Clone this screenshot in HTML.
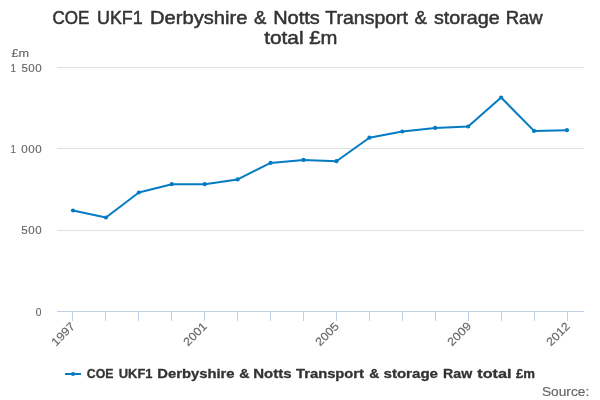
<!DOCTYPE html>
<html><head><meta charset="utf-8"><title>Chart</title>
<style>
html,body{margin:0;padding:0;background:#fff;}
body{width:600px;height:400px;overflow:hidden;font-family:"Liberation Sans", sans-serif;}
svg{display:block;font-family:"Liberation Sans", sans-serif;will-change:transform;}
text{stroke-linejoin:round;}
</style></head><body>
<svg width="600" height="400" viewBox="0 0 600 400">
<rect x="0" y="0" width="600" height="400" fill="#ffffff"/>
<path d="M57 67.5H584" stroke="#e0e0e0" stroke-width="1" fill="none"/>
<path d="M57 148.5H584" stroke="#e0e0e0" stroke-width="1" fill="none"/>
<path d="M57 230.5H584" stroke="#e0e0e0" stroke-width="1" fill="none"/>
<path d="M57 311.5H584" stroke="#c0d0e6" stroke-width="1" fill="none"/>
<path d="M72.5 311V321M105.5 311V321M138.5 311V321M171.5 311V321M204.5 311V321M237.5 311V321M270.5 311V321M303.5 311V321M336.5 311V321M369.5 311V321M402.5 311V321M435.5 311V321M468.5 311V321M501.5 311V321M534.5 311V321M567.5 311V321" stroke="#c0d0e6" stroke-width="1" fill="none"/>
<path d="M73.0 210.5 L105.93 217.5 L138.86 192.5 L171.79 184.2 L204.72 184.2 L237.65 179.4 L270.58 162.9 L303.51 159.9 L336.44 161.2 L369.37 137.7 L402.3 131.5 L435.23 127.9 L468.16 126.5 L501.09 97.5 L534.02 130.9 L566.95 130.2" stroke="#047bc2" stroke-width="2" fill="none" stroke-linejoin="round" stroke-linecap="round"/>
<circle cx="73.0" cy="210.5" r="2.1" fill="#047bc2"/>
<circle cx="105.93" cy="217.5" r="2.1" fill="#047bc2"/>
<circle cx="138.86" cy="192.5" r="2.1" fill="#047bc2"/>
<circle cx="171.79" cy="184.2" r="2.1" fill="#047bc2"/>
<circle cx="204.72" cy="184.2" r="2.1" fill="#047bc2"/>
<circle cx="237.65" cy="179.4" r="2.1" fill="#047bc2"/>
<circle cx="270.58" cy="162.9" r="2.1" fill="#047bc2"/>
<circle cx="303.51" cy="159.9" r="2.1" fill="#047bc2"/>
<circle cx="336.44" cy="161.2" r="2.1" fill="#047bc2"/>
<circle cx="369.37" cy="137.7" r="2.1" fill="#047bc2"/>
<circle cx="402.3" cy="131.5" r="2.1" fill="#047bc2"/>
<circle cx="435.23" cy="127.9" r="2.1" fill="#047bc2"/>
<circle cx="468.16" cy="126.5" r="2.1" fill="#047bc2"/>
<circle cx="501.09" cy="97.5" r="2.1" fill="#047bc2"/>
<circle cx="534.02" cy="130.9" r="2.1" fill="#047bc2"/>
<circle cx="566.95" cy="130.2" r="2.1" fill="#047bc2"/>
<text x="52.43" y="24.3" font-size="18.5" font-weight="normal" fill="#333333" stroke="#333333" stroke-width="0.5" textLength="36.94" lengthAdjust="spacingAndGlyphs">COE</text>
<text x="96.96" y="24.3" font-size="18.5" font-weight="normal" fill="#333333" stroke="#333333" stroke-width="0.5" textLength="45.82" lengthAdjust="spacingAndGlyphs">UKF1</text>
<text x="150.02" y="24.3" font-size="18.5" font-weight="normal" fill="#333333" stroke="#333333" stroke-width="0.5" textLength="97.4" lengthAdjust="spacingAndGlyphs">Derbyshire</text>
<text x="253.97" y="24.3" font-size="18.5" font-weight="normal" fill="#333333" stroke="#333333" stroke-width="0.5" textLength="12.38" lengthAdjust="spacingAndGlyphs">&amp;</text>
<text x="273.2" y="24.3" font-size="18.5" font-weight="normal" fill="#333333" stroke="#333333" stroke-width="0.5" textLength="46.57" lengthAdjust="spacingAndGlyphs">Notts</text>
<text x="325.25" y="24.3" font-size="18.5" font-weight="normal" fill="#333333" stroke="#333333" stroke-width="0.5" textLength="82.75" lengthAdjust="spacingAndGlyphs">Transport</text>
<text x="414.47" y="24.3" font-size="18.5" font-weight="normal" fill="#333333" stroke="#333333" stroke-width="0.5" textLength="12.38" lengthAdjust="spacingAndGlyphs">&amp;</text>
<text x="434.0" y="24.3" font-size="18.5" font-weight="normal" fill="#333333" stroke="#333333" stroke-width="0.5" textLength="65.76" lengthAdjust="spacingAndGlyphs">storage</text>
<text x="505.71" y="24.3" font-size="18.5" font-weight="normal" fill="#333333" stroke="#333333" stroke-width="0.5" textLength="37.03" lengthAdjust="spacingAndGlyphs">Raw</text>
<text x="264.15" y="44.3" font-size="18.5" font-weight="normal" fill="#333333" stroke="#333333" stroke-width="0.5" textLength="39.38" lengthAdjust="spacingAndGlyphs">total</text>
<text x="309.24" y="44.3" font-size="18.5" font-weight="normal" fill="#333333" stroke="#333333" stroke-width="0.5" textLength="28.17" lengthAdjust="spacingAndGlyphs">£m</text>
<text x="11.58" y="56.7" font-size="11.5" font-weight="normal" fill="#666666" stroke="#666666" stroke-width="0.15" textLength="17.57" lengthAdjust="spacingAndGlyphs">£m</text>
<text x="10.6" y="71.8" font-size="11.5" font-weight="normal" fill="#666666" stroke="#666666" stroke-width="0.15" textLength="5.47" lengthAdjust="spacingAndGlyphs">1</text>
<text x="21.5" y="71.8" font-size="11.5" font-weight="normal" fill="#666666" stroke="#666666" stroke-width="0.15" textLength="20.15" lengthAdjust="spacing">500</text>
<text x="10.6" y="153" font-size="11.5" font-weight="normal" fill="#666666" stroke="#666666" stroke-width="0.15" textLength="5.47" lengthAdjust="spacingAndGlyphs">1</text>
<text x="21.35" y="153" font-size="11.5" font-weight="normal" fill="#666666" stroke="#666666" stroke-width="0.15" textLength="20.3" lengthAdjust="spacing">000</text>
<text x="21.35" y="233.8" font-size="11.5" font-weight="normal" fill="#666666" stroke="#666666" stroke-width="0.15" textLength="20.3" lengthAdjust="spacing">500</text>
<text x="35.73" y="315.7" font-size="11.5" font-weight="normal" fill="#666666" stroke="#666666" stroke-width="0.15" textLength="5.7" lengthAdjust="spacingAndGlyphs">0</text>
<text x="86.75" y="378" font-size="12.5" font-weight="bold" fill="#333333" stroke="#333333" stroke-width="0.3" textLength="26.76" lengthAdjust="spacingAndGlyphs">COE</text>
<text x="118.74" y="378" font-size="12.5" font-weight="bold" fill="#333333" stroke="#333333" stroke-width="0.3" textLength="33.77" lengthAdjust="spacingAndGlyphs">UKF1</text>
<text x="157.24" y="378" font-size="12.5" font-weight="bold" fill="#333333" stroke="#333333" stroke-width="0.3" textLength="77.36" lengthAdjust="spacingAndGlyphs">Derbyshire</text>
<text x="239.31" y="378" font-size="12.5" font-weight="bold" fill="#333333" stroke="#333333" stroke-width="0.3" textLength="10.32" lengthAdjust="spacingAndGlyphs">&amp;</text>
<text x="253.22" y="378" font-size="12.5" font-weight="bold" fill="#333333" stroke="#333333" stroke-width="0.3" textLength="38.29" lengthAdjust="spacingAndGlyphs">Notts</text>
<text x="296.0" y="378" font-size="12.5" font-weight="bold" fill="#333333" stroke="#333333" stroke-width="0.3" textLength="68.0" lengthAdjust="spacingAndGlyphs">Transport</text>
<text x="369.32" y="378" font-size="12.5" font-weight="bold" fill="#333333" stroke="#333333" stroke-width="0.3" textLength="10.1" lengthAdjust="spacingAndGlyphs">&amp;</text>
<text x="383.49" y="378" font-size="12.5" font-weight="bold" fill="#333333" stroke="#333333" stroke-width="0.3" textLength="54.51" lengthAdjust="spacingAndGlyphs">storage</text>
<text x="443.08" y="378" font-size="12.5" font-weight="bold" fill="#333333" stroke="#333333" stroke-width="0.3" textLength="29.07" lengthAdjust="spacingAndGlyphs">Raw</text>
<text x="477.25" y="378" font-size="12.5" font-weight="bold" fill="#333333" stroke="#333333" stroke-width="0.3" textLength="34.28" lengthAdjust="spacingAndGlyphs">total</text>
<text x="516.0" y="378" font-size="12.5" font-weight="bold" fill="#333333" stroke="#333333" stroke-width="0.3" textLength="19.03" lengthAdjust="spacingAndGlyphs">£m</text>
<text x="541.92" y="395.5" font-size="12.5" font-weight="normal" fill="#666666" stroke="#666666" stroke-width="0.15" textLength="47.38" lengthAdjust="spacingAndGlyphs">Source:</text>
<text x="47.64" y="326.65" font-size="11.5" fill="#666666" stroke="#666666" stroke-width="0.15" textLength="27.94" lengthAdjust="spacingAndGlyphs" transform="rotate(-45 76.05 326.65)">1997</text>
<text x="179.68" y="326.65" font-size="11.5" fill="#666666" stroke="#666666" stroke-width="0.15" textLength="27.89" lengthAdjust="spacingAndGlyphs" transform="rotate(-45 208.05 326.65)">2001</text>
<text x="311.68" y="326.65" font-size="11.5" fill="#666666" stroke="#666666" stroke-width="0.15" textLength="27.89" lengthAdjust="spacingAndGlyphs" transform="rotate(-45 340.05 326.65)">2005</text>
<text x="443.68" y="326.65" font-size="11.5" fill="#666666" stroke="#666666" stroke-width="0.15" textLength="28.14" lengthAdjust="spacingAndGlyphs" transform="rotate(-45 472.05 326.65)">2009</text>
<text x="542.68" y="326.65" font-size="11.5" fill="#666666" stroke="#666666" stroke-width="0.15" textLength="27.89" lengthAdjust="spacingAndGlyphs" transform="rotate(-45 571.05 326.65)">2012</text>
<path d="M65 374H81" stroke="#047bc2" stroke-width="2" fill="none"/>
<circle cx="73" cy="374" r="2.1" fill="#047bc2"/>
</svg></body></html>
